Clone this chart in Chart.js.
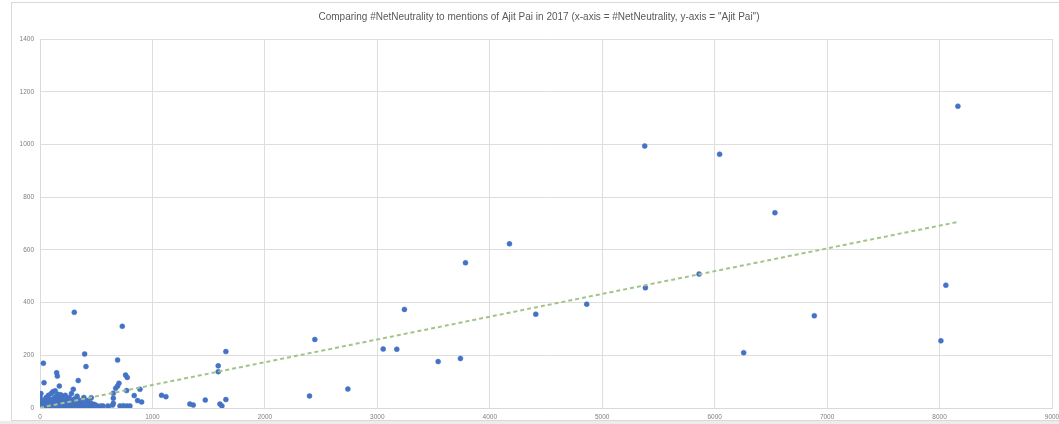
<!DOCTYPE html>
<html>
<head>
<meta charset="utf-8">
<script src="https://cdn.jsdelivr.net/npm/chart.js@4"></script>
<style>
  html, body { margin: 0; padding: 0; background: #ffffff; }
  canvas { display: block; }
</style>
</head>
<body>
<canvas id="chart" width="1059" height="424" style="width:1059px;height:424px"></canvas>
<script>
// Daily counts in 2017: #NetNeutrality mentions (x) vs. "Ajit Pai" mentions (y)
const netNeutralityCounts = [
  0, 2, 3, 5, 8, 12, 18, 25, 30, 35, 40, 45, 50, 55, 60, 65, 70, 75, 80, 85,
  90, 95, 100, 105, 110, 115, 120, 125, 130, 135, 140, 145, 150, 155, 160, 165, 170, 175, 180, 185,
  190, 195, 200, 205, 210, 215, 220, 225, 230, 235, 240, 245, 250, 255, 260, 265, 270, 275, 280, 285,
  290, 300, 305, 310, 320, 325, 330, 340, 345, 350, 360, 370, 375, 380, 390, 400, 410, 420, 430, 440,
  450, 460, 470, 480, 490, 500, 520, 540,
  30, 36, 148, 154, 172, 296, 340, 305, 397, 409, 456,
  489, 560, 604, 607, 646, 652, 652, 652, 673, 690, 690, 702, 711, 732, 740, 761, 770, 773, 776,
  800, 838, 868, 889, 904,
  1081, 1120, 1333, 1363, 1470, 1585, 1585, 1600, 1618, 1653, 1653,
  2397, 2444, 2738, 3052, 3173, 3241, 3541, 3739, 3784, 4175, 4409, 4862, 5378, 5384,
  5861, 6044, 6258, 6536, 6886, 8012, 8056, 8163
];
const ajitPaiCounts = [
  12, 40, 25, 2, 55, 8, 15, 4, 22, 10, 30, 3, 18, 40, 6, 25, 12, 48, 2, 33,
  20, 8, 55, 14, 28, 62, 5, 38, 18, 65, 9, 45, 25, 3, 52, 15, 35, 7, 28, 50,
  12, 20, 4, 42, 16, 30, 8, 48, 22, 2, 36, 12, 25, 6, 40, 15, 28, 3, 55, 10,
  20, 6, 34, 14, 24, 4, 45, 12, 30, 8, 18, 3, 26, 10, 40, 6, 16, 28, 4, 12,
  20, 8, 3, 14, 5, 10, 4, 8,
  170, 96, 134, 121, 83, 71, 104, 363, 205, 157, 39,
  8, 8, 8, 2, 11, 56, 37, 18, 75, 83, 182, 94, 8, 310, 9, 125, 66, 8, 116,
  8, 47, 28, 71, 23,
  48, 43, 15, 11, 30, 160, 138, 15, 8, 214, 32,
  46, 260, 72, 224, 223, 374, 176, 188, 551, 623, 356, 394, 994, 456,
  508, 963, 210, 741, 350, 255, 466, 1145
];

// Linear trendline end points
const trendX = [0, 8163];
const trendY = [1, 706];

// Axis ticks
const xTicks = [0, 1000, 2000, 3000, 4000, 5000, 6000, 7000, 8000, 9000];
const yTicks = [0, 200, 400, 600, 800, 1000, 1200, 1400];

const chartTitle = 'Comparing #NetNeutrality to mentions of Ajit Pai in 2017 (x-axis = #NetNeutrality, y-axis = "Ajit Pai")';

const points = netNeutralityCounts.map((x, i) => ({ x: x, y: ajitPaiCounts[i] }));
const trend = trendX.map((x, i) => ({ x: x, y: trendY[i] }));

const FONT = "'Liberation Sans', Arial, sans-serif";

// Chart frame and title
const framePlugin = {
  id: 'frame',
  beforeDraw(chart) {
    const ctx = chart.ctx;
    ctx.save();
    ctx.fillStyle = '#ffffff';
    ctx.fillRect(0, 0, chart.width, chart.height);
    ctx.fillStyle = '#ececec';
    ctx.fillRect(0, 421, chart.width, 3);
    ctx.strokeStyle = '#d9d9d9';
    ctx.lineWidth = 1;
    ctx.strokeRect(11.5, 2.5, 1070, 418);
    ctx.restore();
  },
  afterDraw(chart) {
    const ctx = chart.ctx;
    ctx.save();
    ctx.fillStyle = '#595959';
    ctx.font = '10px ' + FONT;
    ctx.textAlign = 'center';
    ctx.textBaseline = 'middle';
    ctx.fillText(chartTitle, 539, 17);
    ctx.restore();
  }
};

const plainNumber = v => String(v);

new Chart(document.getElementById('chart'), {
  type: 'scatter',
  data: {
    datasets: [
      {
        label: 'Trend',
        type: 'line',
        data: trend,
        order: 0,
        borderColor: '#a2c48b',
        borderWidth: 2,
        borderDash: [4, 3],
        pointRadius: 0,
        fill: false,
        tension: 0
      },
      {
        label: 'Days',
        data: points,
        order: 1,
        backgroundColor: '#4472c4',
        borderColor: '#4472c4',
        borderWidth: 0.5,
        pointRadius: 2.5
      }
    ]
  },
  options: {
    responsive: false,
    devicePixelRatio: 1,
    animation: false,
    layout: { padding: { left: 0, right: 7, top: 39, bottom: 0 } },
    plugins: {
      legend: { display: false },
      title: { display: false },
      tooltip: { enabled: false }
    },
    scales: {
      x: {
        type: 'linear',
        min: xTicks[0],
        max: xTicks[xTicks.length - 1],
        afterBuildTicks(scale) { scale.ticks = xTicks.map(v => ({ value: v })); },
        afterFit(scale) { scale.height = 16; scale.paddingLeft = 0; scale.paddingRight = 0; },
        grid: { color: '#dedede', lineWidth: 1, drawTicks: false },
        border: { color: '#d9d9d9' },
        ticks: {
          color: '#7f7f7f',
          font: { size: 6.5, family: FONT },
          padding: 5,
          maxRotation: 0,
          autoSkip: false,
          callback: plainNumber
        }
      },
      y: {
        type: 'linear',
        min: yTicks[0],
        max: yTicks[yTicks.length - 1],
        afterBuildTicks(scale) { scale.ticks = yTicks.map(v => ({ value: v })); },
        afterFit(scale) { scale.width = 40; scale.paddingTop = 0; scale.paddingBottom = 0; },
        grid: { color: '#dedede', lineWidth: 1, drawTicks: false },
        border: { color: '#d9d9d9' },
        ticks: {
          color: '#7f7f7f',
          font: { size: 6.5, family: FONT },
          padding: 6,
          autoSkip: false,
          callback: plainNumber
        }
      }
    }
  },
  plugins: [framePlugin]
});
</script>
</body>
</html>
